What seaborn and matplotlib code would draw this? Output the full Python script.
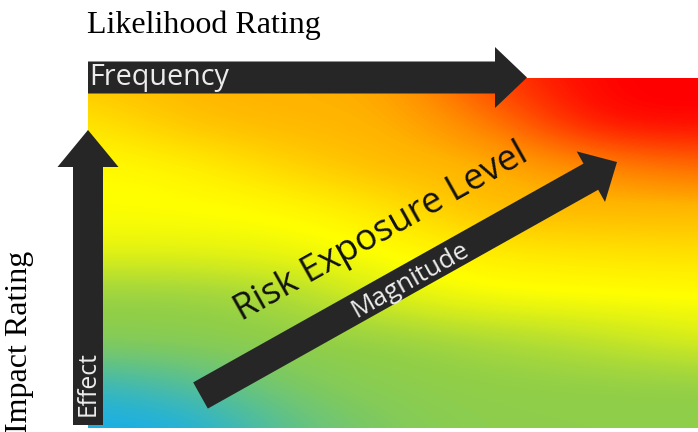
import numpy as np
import matplotlib
matplotlib.use("Agg")
import matplotlib.pyplot as plt
from matplotlib.patches import FancyArrow, Rectangle
import seaborn as sns

# Risk level scale: 0 = low (blue) ... 4 = extreme (red)
level_colors = ["#16aeea", "#8fce4a", "#ffff00", "#ffb400", "#ff0000"]

# Risk level sampled across the field, rows top (high impact) to bottom,
# columns left (rare) to right (frequent)
row_top = [2.8, 3.0, 3.0, 3.05, 3.7, 4.0, 4.0]
row_2 = [2.3, 2.9, 3.0, 3.0, 3.3, 4.0, 4.0]
row_3 = [2.0, 2.1, 2.6, 3.0, 3.0, 3.2, 3.4]
row_4 = [2.0, 2.0, 2.0, 2.3, 3.0, 3.0, 3.0]
row_5 = [1.8, 1.8, 1.9, 2.0, 2.2, 2.3, 2.4]
row_6 = [1.0, 1.0, 1.2, 1.8, 2.0, 2.0, 2.0]
row_7 = [1.0, 1.0, 1.0, 1.0, 1.2, 1.4, 1.7]
row_8 = [0.25, 0.5, 0.9, 1.0, 1.0, 1.0, 1.0]
row_bottom = [0.0, 0.0, 0.6, 0.9, 1.0, 1.0, 1.0]

title_x = "Likelihood Rating"
title_y = "Impact Rating"
label_frequency = "Frequency"
label_effect = "Effect"
label_magnitude = "Magnitude"
label_risk = "Risk Exposure Level"

sns.set_theme(style="white")

field = np.array([row_top, row_2, row_3, row_4, row_5, row_6, row_7, row_8, row_bottom])
cmap = sns.blend_palette(level_colors, as_cmap=True)

W, H = 698, 432
fig = plt.figure(figsize=(W / 100, H / 100), dpi=100)
ax = fig.add_axes([0, 0, 1, 1])
ax.set_xlim(0, W)
ax.set_ylim(H, 0)
ax.axis("off")

# Field area
x0, x1, y0, y1 = 88, 698, 78, 428
nrows, ncols = field.shape
dx = (x1 - x0) / (ncols - 1)
dy = (y1 - y0) / (nrows - 1)
im = ax.imshow(field, cmap=cmap, vmin=0, vmax=4, interpolation="bicubic",
               extent=[x0 - dx / 2, x1 + dx / 2, y1 + dy / 2, y0 - dy / 2],
               aspect="auto", zorder=1)
clip = Rectangle((x0, y0), x1 - x0, y1 - y0, transform=ax.transData)
im.set_clip_path(clip)

arrow_color = "#262626"
text_light = "#ececec"

# Frequency axis arrow
ax.add_patch(FancyArrow(88, 77.5, 527 - 88, 0, width=32, head_width=61,
                        head_length=32, length_includes_head=True,
                        color=arrow_color, lw=0, zorder=3))
# Effect axis arrow
ax.add_patch(FancyArrow(88, 425, 0, 130 - 425, width=30, head_width=61,
                        head_length=37, length_includes_head=True,
                        color=arrow_color, lw=0, zorder=3))
# Magnitude arrow
sx, sy, tx, ty = 200.5, 395.5, 617, 162
ax.add_patch(FancyArrow(sx, sy, tx - sx, ty - sy, width=30, head_width=58,
                        head_length=30, length_includes_head=True,
                        color=arrow_color, lw=0, zorder=3))
angle = np.degrees(np.arctan2(sy - ty, tx - sx))

sans = ["Open Sans", "DejaVu Sans"]
ax.text(89, 78, label_frequency, color=text_light, fontsize=20.7, family=sans,
        ha="left", va="center", zorder=4)
ax.text(88, 383.5, label_effect, color=text_light, fontsize=17.8, family=sans,
        rotation=90, ha="center", va="center", zorder=4)
ax.text(410, 280, label_magnitude, color=text_light, fontsize=18.8, family=sans,
        rotation=angle, rotation_mode="anchor", ha="center", va="center", zorder=4)
ax.text(381, 232, label_risk, color="#111111", fontsize=26, family=sans,
        rotation=angle, rotation_mode="anchor", ha="center", va="center", zorder=4)

serif = ["Liberation Serif", "DejaVu Serif"]
ax.text(87, 33, title_x, color="black", fontsize=23, family=serif,
        ha="left", va="baseline")
ax.text(20, 342, title_y, color="black", fontsize=23, family=serif,
        rotation=90, ha="center", va="center")

fig.savefig("out.png", dpi=100)
